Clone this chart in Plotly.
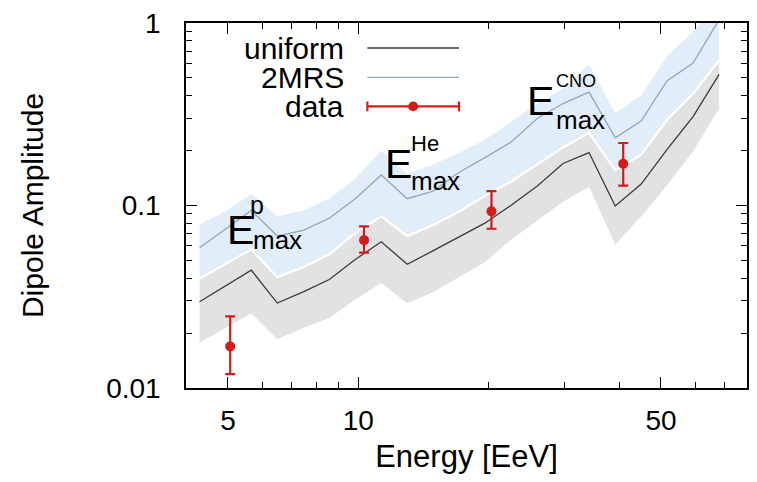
import plotly.graph_objects as go

# Energy grid of the model curves [EeV]
energy = [4.30, 4.93, 5.66, 6.50, 7.46, 8.57, 9.84, 11.3, 12.97, 14.9, 17.1,
          19.6, 22.5, 25.9, 29.7, 34.1, 39.2, 45.0, 51.6, 59.3, 68.1]

# Isotropic-source ("uniform") model: central curve and band
uniform = [0.0297, 0.0362, 0.0442, 0.0292, 0.0336, 0.0393, 0.0506, 0.0633, 0.0476,
           0.0566, 0.0673, 0.0800, 0.1000, 0.128, 0.170, 0.195, 0.0994, 0.131,
           0.2025, 0.307, 0.523]
uniform_lo = [0.0177, 0.0213, 0.0257, 0.0185, 0.0213, 0.0242, 0.0305, 0.0376, 0.0291,
              0.0336, 0.0405, 0.0488, 0.0648, 0.0830, 0.105, 0.1265, 0.0612, 0.0870,
              0.1286, 0.198, 0.339]
uniform_hi = [0.0397, 0.0476, 0.0575, 0.0405, 0.0459, 0.0540, 0.0707, 0.0873, 0.0681,
              0.0781, 0.0928, 0.113, 0.135, 0.168, 0.208, 0.250, 0.156, 0.190,
              0.294, 0.410, 0.625]

# 2MRS-based model: central curve and band
mrs = [0.0587, 0.0743, 0.0940, 0.0681, 0.0731, 0.0851, 0.109, 0.147, 0.109,
       0.120, 0.152, 0.183, 0.222, 0.300, 0.362, 0.418, 0.235, 0.290,
       0.482, 0.604, 1.044]
mrs_lo = uniform_hi
mrs_hi = [0.0790, 0.0928, 0.116, 0.0873, 0.0940, 0.109, 0.140, 0.200, 0.149,
          0.168, 0.195, 0.229, 0.286, 0.362, 0.436, 0.594, 0.320, 0.400,
          0.657, 0.895, 1.30]

# Measured dipole amplitudes
data_e = [5.06, 10.31, 20.3, 40.9]
data_amp = [0.0169, 0.0646, 0.0929, 0.1695]
data_up = [0.0247, 0.0768, 0.120, 0.220]
data_down = [0.0119, 0.0552, 0.0746, 0.1286]

x_ticks = [5, 10, 50]
x_minor = [6, 7, 8, 9, 20, 30, 40, 60, 70]
y_ticks = [0.01, 0.1, 1]
y_tick_text = ["0.01", "0.1", "1"]
y_minor = [0.02, 0.03, 0.04, 0.05, 0.06, 0.07, 0.08, 0.09,
           0.2, 0.3, 0.4, 0.5, 0.6, 0.7, 0.8, 0.9]

FONT = "Liberation Sans, Arial, Helvetica, sans-serif"
RED = "#d41c1c"
GRAY_BAND = "#e2e2e2"
BLUE_BAND = "#e1edf8"
UNI_COLOR = "#3a3a3a"
MRS_COLOR = "#8ea8c0"

W, H = 757, 482
L, R, T, B = 186, 8, 16, 94


def px(xpix):
    return (xpix - L) / (W - L - R)


def py(ypix):
    return (H - B - ypix) / (H - T - B)


fig = go.Figure()

# bands
fig.add_trace(go.Scatter(x=energy, y=uniform_lo, mode="lines", line=dict(width=0),
                         hoverinfo="skip", showlegend=False))
fig.add_trace(go.Scatter(x=energy, y=uniform_hi, mode="lines", line=dict(width=0),
                         fill="tonexty", fillcolor=GRAY_BAND, hoverinfo="skip",
                         showlegend=False))
fig.add_trace(go.Scatter(x=energy, y=mrs_lo, mode="lines", line=dict(width=0),
                         hoverinfo="skip", showlegend=False))
fig.add_trace(go.Scatter(x=energy, y=mrs_hi, mode="lines", line=dict(width=0),
                         fill="tonexty", fillcolor=BLUE_BAND, hoverinfo="skip",
                         showlegend=False))
fig.add_trace(go.Scatter(x=energy, y=mrs_lo, mode="lines",
                         line=dict(width=2.2, color="white"),
                         hoverinfo="skip", showlegend=False))

# central curves
fig.add_trace(go.Scatter(x=energy, y=uniform, mode="lines", name="uniform",
                         line=dict(width=1.3, color=UNI_COLOR), showlegend=False))
fig.add_trace(go.Scatter(x=energy, y=mrs, mode="lines", name="2MRS",
                         line=dict(width=1.3, color=MRS_COLOR), showlegend=False))

# data points
fig.add_trace(go.Scatter(
    x=data_e, y=data_amp, mode="markers", name="data",
    marker=dict(size=10, color=RED),
    error_y=dict(type="data", symmetric=False,
                 array=[u - a for u, a in zip(data_up, data_amp)],
                 arrayminus=[a - d for a, d in zip(data_amp, data_down)],
                 color=RED, thickness=2.2, width=5),
    showlegend=False))

# hand-drawn key
key = [("uniform", 41.5, UNI_COLOR), ("2MRS", 71.5, MRS_COLOR), ("data", 101, RED)]
shapes = []
annotations = []
for label, ypix, col in key:
    annotations.append(dict(text=label, x=px(347), y=py(ypix), xref="paper", yref="paper",
                            xanchor="right", yanchor="middle", showarrow=False,
                            font=dict(family=FONT, size=30, color="black")))
    lw = 2.2 if label == "data" else 1.3
    shapes.append(dict(type="line", xref="paper", yref="paper", x0=px(368), x1=px(460),
                       y0=py(ypix), y1=py(ypix), line=dict(color=col, width=lw)))
ydata = py(101)
for xc in (368, 460):
    shapes.append(dict(type="line", xref="paper", yref="paper", x0=px(xc), x1=px(xc),
                       y0=ydata - 5 / 372, y1=ydata + 5 / 372,
                       line=dict(color=RED, width=2.2)))
shapes.append(dict(type="circle", xref="paper", yref="paper",
                   x0=px(414 - 5), x1=px(414 + 5), y0=ydata - 5 / 372, y1=ydata + 5 / 372,
                   fillcolor=RED, line=dict(color=RED, width=0)))


# E_max labels built from main glyph, superscript and subscript
def emax(ex, ey, sup, sx, sy, ssize, mx, my):
    annotations.append(dict(text="E", x=px(ex), y=py(ey), xref="paper", yref="paper",
                            xanchor="center", yanchor="middle", showarrow=False,
                            font=dict(family=FONT, size=41, color="black")))
    annotations.append(dict(text=sup, x=px(sx), y=py(sy), xref="paper", yref="paper",
                            xanchor="left", yanchor="middle", showarrow=False,
                            font=dict(family=FONT, size=ssize, color="black")))
    annotations.append(dict(text="max", x=px(mx), y=py(my), xref="paper", yref="paper",
                            xanchor="left", yanchor="middle", showarrow=False,
                            font=dict(family=FONT, size=26, color="black")))


emax(241, 227, "p", 248, 201, 25, 251, 237)
emax(399, 160, "He", 410, 139, 22, 410, 177)
emax(542, 96, "CNO", 555, 75, 18, 555, 115)

axis_common = dict(
    showline=True, linecolor="black", linewidth=1.5, mirror="ticks",
    ticks="inside", tickcolor="black", tickwidth=1.2, ticklen=11,
    showgrid=False, zeroline=False,
    tickfont=dict(family=FONT, size=28, color="black"),
)

fig.update_layout(
    width=W, height=H,
    margin=dict(l=L, r=R, t=T, b=B),
    paper_bgcolor="white", plot_bgcolor="white",
    showlegend=False,
    shapes=shapes, annotations=annotations,
    xaxis=dict(type="log", range=[0.60206, 1.8976],
               tickmode="array", tickvals=x_ticks, ticktext=[str(v) for v in x_ticks],
               minor=dict(tickmode="array", tickvals=x_minor, ticks="inside",
                          ticklen=6, tickcolor="black", tickwidth=1, showgrid=False),
               ticklabelstandoff=7,
               title=dict(text="Energy [EeV]", font=dict(family=FONT, size=31, color="black"),
                          standoff=10),
               **axis_common),
    yaxis=dict(type="log", range=[-2, 0],
               tickmode="array", tickvals=y_ticks, ticktext=y_tick_text,
               minor=dict(tickmode="array", tickvals=y_minor, ticks="inside",
                          ticklen=6, tickcolor="black", tickwidth=1, showgrid=False),
               ticklabelstandoff=18,
               title=dict(text="Dipole Amplitude", font=dict(family=FONT, size=30, color="black"),
                          standoff=54),
               **axis_common),
)

fig.write_html("out.html")
